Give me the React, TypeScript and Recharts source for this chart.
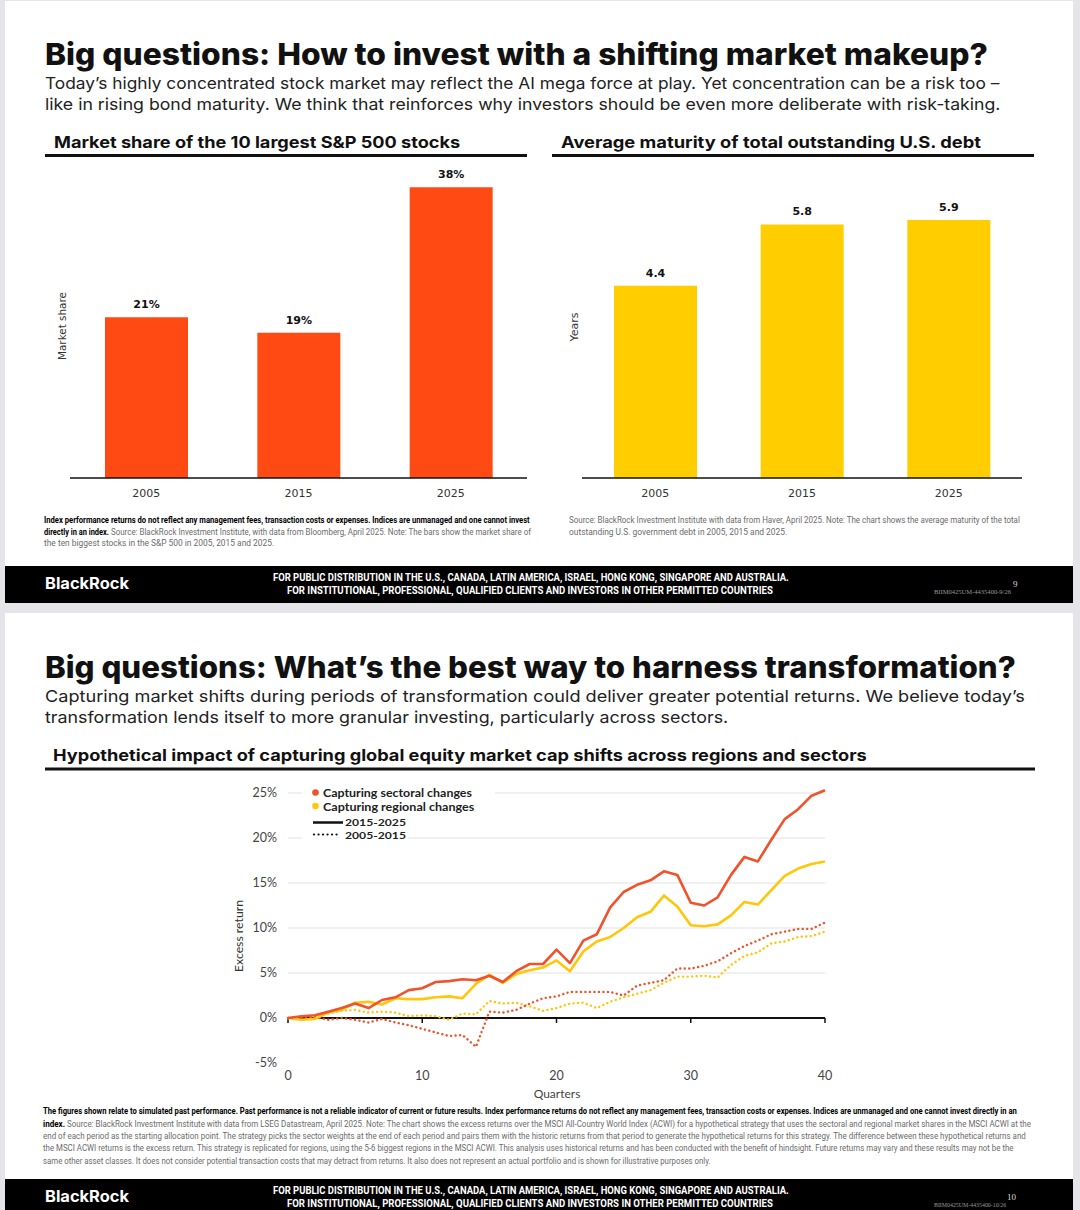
import React, { useLayoutEffect, useRef, useState } from 'react';
import { BarChart, Bar, XAxis, YAxis, LabelList, LineChart, Line, ReferenceLine } from 'recharts';

// top slide: bar charts
const years = ['2005', '2015', '2025'];
const marketShare = [21, 19, 38];
const avgMaturity = [4.4, 5.8, 5.9];

// bottom slide: cumulative excess return (%) by quarter
const quarters = [0, 1, 2, 3, 4, 5, 6, 7, 8, 9, 10, 11, 12, 13, 14, 15, 16, 17, 18, 19, 20, 21, 22, 23, 24, 25, 26, 27, 28, 29, 30, 31, 32, 33, 34, 35, 36, 37, 38, 39, 40];
const sectoral2015 = [0, 0.2, 0.3, 0.7, 1.1, 1.6, 1.1, 2.0, 2.3, 3.1, 3.3, 4.0, 4.1, 4.3, 4.2, 4.7, 4.0, 5.2, 6.0, 6.0, 7.6, 6.1, 8.6, 9.3, 12.3, 14.0, 14.8, 15.3, 16.3, 15.9, 12.8, 12.5, 13.4, 15.9, 17.9, 17.4, 19.8, 22.1, 23.2, 24.7, 25.3];
const regional2015 = [0, -0.2, -0.1, 0.6, 0.9, 1.7, 1.8, 1.5, 2.2, 2.1, 2.1, 2.3, 2.4, 2.2, 3.8, 4.8, 3.9, 4.9, 5.3, 5.6, 6.4, 5.2, 7.4, 8.5, 9.0, 10.0, 11.2, 11.8, 13.6, 12.4, 10.3, 10.2, 10.4, 11.4, 12.9, 12.6, 14.2, 15.8, 16.6, 17.1, 17.4];
const sectoral2005 = [0, 0.1, 0.1, -0.2, 0, -0.2, -0.5, -0.1, -0.5, -0.8, -1.2, -1.6, -2.0, -1.9, -3.2, 0.7, 0.6, 0.9, 1.6, 2.2, 2.4, 2.9, 2.9, 2.9, 2.9, 2.5, 3.6, 3.9, 4.2, 5.5, 5.5, 5.8, 6.3, 7.2, 8.0, 8.6, 9.3, 9.6, 9.9, 9.9, 10.6];
const regional2005 = [0, 0.1, 0.2, 0.5, 0.8, 0.9, 0.6, 0.7, 0.6, 0.2, 0.3, 0.2, -0.2, 0.5, 0.4, 1.9, 1.6, 1.7, 1.3, 0.8, 1.1, 1.6, 1.7, 1.1, 1.8, 2.3, 2.7, 3.1, 3.9, 4.6, 4.6, 4.7, 4.5, 5.9, 6.9, 7.3, 8.3, 8.5, 9.0, 9.1, 9.6];

const pctTicks = [-5, 0, 5, 10, 15, 20, 25];
const gridLevels = [5, 10, 15, 20, 25];
const quarterTicks = [0, 10, 20, 30, 40];

const RED = '#FF4A14';
const YELLOW = '#FFCD00';
const LINE_RED = '#F0522B';
const LINE_YELLOW = '#FFC60A';

const SANS = 'Roboto, "Noto Sans", sans-serif';
const HEAD = 'Inter, Roboto, sans-serif';
const BAR_FONT = '"DejaVu Sans", Verdana, sans-serif';
const LINE_FONT = 'Lato, "Open Sans", sans-serif';

// text line squeezed/stretched horizontally to a measured width
function T({ x, y, w, size, weight = 400, fill = '#111', family = SANS, anchor, children }: any) {
  const ref = useRef<SVGTextElement>(null);
  const [sx, setSx] = useState(1);
  useLayoutEffect(() => {
    if (!w) return;
    const measure = () => {
      const n = ref.current ? ref.current.getComputedTextLength() : 0;
      if (n > 0) setSx(w / n);
    };
    measure();
    if (document.fonts) document.fonts.ready.then(measure);
  }, [w]);
  return (
    <text
      ref={ref}
      x={0}
      y={0}
      transform={`translate(${x} ${y}) scale(${w ? sx : 1} 1)`}
      fontSize={size}
      fontWeight={weight}
      fill={fill}
      fontFamily={family}
      textAnchor={anchor}
    >
      {children}
    </text>
  );
}

function VLabel({ x, y, h, size = 11, family = BAR_FONT, children }: any) {
  return (
    <g transform={`translate(${x} ${y}) rotate(-90)`}>
      <T x={-h / 2} y={size * 0.36} w={h} size={size} fill="#333" family={family}>
        {children}
      </T>
    </g>
  );
}

function YearBars({ values, color, max, fmt, width, right }: any) {
  const data = years.map((y, i) => ({ year: y, v: values[i] }));
  return (
    <BarChart width={width} height={350} data={data} margin={{ top: 12, right, bottom: 2, left: 0 }}>
      <XAxis
        dataKey="year"
        height={30}
        tickLine={false}
        tickMargin={5}
        axisLine={{ stroke: '#111', strokeWidth: 1.5 }}
        tick={{ fontSize: 11, fill: '#333', fontFamily: BAR_FONT }}
      />
      <YAxis width={30} domain={[0, max]} tick={false} axisLine={false} tickLine={false} />
      <Bar dataKey="v" fill={color} barSize={83} isAnimationActive={false}>
        <LabelList
          dataKey="v"
          position="top"
          offset={9}
          formatter={fmt}
          style={{ fontSize: 11, fontWeight: 700, fill: '#111', fontFamily: BAR_FONT }}
        />
      </Bar>
    </BarChart>
  );
}

function ReturnsChart() {
  const data = quarters.map((q, i) => ({
    q,
    s15: sectoral2015[i],
    r15: regional2015[i],
    s05: sectoral2005[i],
    r05: regional2005[i],
  }));
  const dotted = { strokeDasharray: '0.1 4.4', strokeLinecap: 'round' as const, strokeWidth: 2.4 };
  return (
    <LineChart width={630} height={330} data={data} margin={{ top: 9, right: 35, bottom: 4, left: 8 }}>
      <XAxis
        dataKey="q"
        type="number"
        domain={[0, 40]}
        ticks={quarterTicks}
        interval={0}
        height={38}
        axisLine={false}
        tickLine={false}
        tick={{ fontSize: 12.5, fill: '#444', fontFamily: LINE_FONT }}
      />
      <YAxis
        width={50}
        domain={[-5, 26]}
        ticks={pctTicks}
        tickFormatter={(v: number) => `${v}%`}
        axisLine={false}
        tickLine={false}
        tickMargin={5}
        tick={{ fontSize: 12.5, fill: '#444', fontFamily: LINE_FONT }}
      />
      {gridLevels.map((g) => (
        <ReferenceLine key={g} y={g} stroke="#e2e2e2" strokeWidth={1.2} />
      ))}
      <ReferenceLine y={0} stroke="#111" strokeWidth={2} />
      {quarterTicks.map((t) => (
        <ReferenceLine key={`t${t}`} segment={[{ x: t, y: 0 }, { x: t, y: -0.55 }]} stroke="#111" strokeWidth={1.5} />
      ))}
      <Line dataKey="r05" stroke={LINE_YELLOW} dot={false} {...dotted} isAnimationActive={false} />
      <Line dataKey="s05" stroke={LINE_RED} dot={false} {...dotted} isAnimationActive={false} />
      <Line dataKey="r15" stroke={LINE_YELLOW} dot={false} strokeWidth={2.6} strokeLinejoin="round" isAnimationActive={false} />
      <Line dataKey="s15" stroke={LINE_RED} dot={false} strokeWidth={2.6} strokeLinejoin="round" isAnimationActive={false} />
    </LineChart>
  );
}

function Footer({ y, page, code, codeW, pageX }: any) {
  return (
    <g>
      <rect x={5} y={y} width={1068} height={37} fill="#000" />
      <T x={45} y={y + 23} w={84} size={16} weight={700} fill="#fff" family={HEAD}>BlackRock</T>
      <T x={273} y={y + 15} w={516} size={10} weight={700} fill="#fff">
        FOR PUBLIC DISTRIBUTION IN THE U.S., CANADA, LATIN AMERICA, ISRAEL, HONG KONG, SINGAPORE AND AUSTRALIA.
      </T>
      <T x={287} y={y + 28} w={486} size={10} weight={700} fill="#fff">
        FOR INSTITUTIONAL, PROFESSIONAL, QUALIFIED CLIENTS AND INVESTORS IN OTHER PERMITTED COUNTRIES
      </T>
      <T x={934} y={y + 28} w={codeW} size={7} fill="#9a9a9a" family='"Liberation Serif", serif'>
        {code}
      </T>
      <T x={pageX} y={y + 21} size={9} fill="#ddd" family='"Liberation Serif", serif'>
        {page}
      </T>
    </g>
  );
}

export default function App() {
  const NOTE = 9.5;
  const GRAY = '#6b6b6b';
  return (
    <div style={{ position: 'absolute', left: 0, top: 0, width: 1080, height: 1210, background: '#e5e5e9', overflow: 'hidden' }}>
      <svg width={1080} height={1210} style={{ position: 'absolute', left: 0, top: 0 }}>
        {/* slide 9 */}
        <rect x={5} y={1} width={1068} height={565} fill="#fff" />
        <T x={45} y={65} w={943} size={30} weight={800} family={HEAD}>Big questions: How to invest with a shifting market makeup?</T>
        <T x={45} y={89} w={954} size={16.5} fill="#222" family={HEAD}>
          Today’s highly concentrated stock market may reflect the AI mega force at play. Yet concentration can be a risk too –
        </T>
        <T x={45} y={110} w={955} size={16.5} fill="#222" family={HEAD}>
          like in rising bond maturity. We think that reinforces why investors should be even more deliberate with risk-taking.
        </T>
        <T x={54} y={148} w={406} size={16} weight={700} family={HEAD}>Market share of the 10 largest S&amp;P 500 stocks</T>
        <T x={561} y={148} w={420} size={16} weight={700} family={HEAD}>Average maturity of total outstanding U.S. debt</T>
        <rect x={45} y={154} width={482} height={3} fill="#111" />
        <rect x={552} y={154} width={482} height={3} fill="#111" />
        <VLabel x={62} y={326} h={68}>Market share</VLabel>
        <VLabel x={574} y={327} h={29}>Years</VLabel>

        <T x={44} y={523} w={486} size={NOTE} weight={700} fill="#000">
          Index performance returns do not reflect any management fees, transaction costs or expenses. Indices are unmanaged and one cannot invest
        </T>
        <T x={44} y={535} w={65} size={NOTE} weight={700} fill="#000">directly in an index.</T>
        <T x={111} y={535} w={420} size={NOTE} fill={GRAY}>
          Source: BlackRock Investment Institute, with data from Bloomberg, April 2025. Note: The bars show the market share of
        </T>
        <T x={44} y={546} w={230} size={NOTE} fill={GRAY}>the ten biggest stocks in the S&amp;P 500 in 2005, 2015 and 2025.</T>
        <T x={569} y={523} w={451} size={NOTE} fill={GRAY}>
          Source: BlackRock Investment Institute with data from Haver, April 2025. Note: The chart shows the average maturity of the total
        </T>
        <T x={569} y={535} w={218} size={NOTE} fill={GRAY}>outstanding U.S. government debt in 2005, 2015 and 2025.</T>
        <Footer y={566} page="9" code="BIIM0425UM-4435400-9/26" codeW={77} pageX={1013} />

        {/* slide 10 */}
        <rect x={5} y={613} width={1068} height={566} fill="#fff" />
        <T x={45} y={678} w={971} size={30} weight={800} family={HEAD}>Big questions: What’s the best way to harness transformation?</T>
        <T x={45} y={702} w={980} size={16.5} fill="#222" family={HEAD}>
          Capturing market shifts during periods of transformation could deliver greater potential returns. We believe today’s
        </T>
        <T x={45} y={723} w={683} size={16.5} fill="#222" family={HEAD}>
          transformation lends itself to more granular investing, particularly across sectors.
        </T>
        <T x={53} y={761} w={814} size={16} weight={700} family={HEAD}>
          Hypothetical impact of capturing global equity market cap shifts across regions and sectors
        </T>
        <rect x={45} y={767.5} width={990} height={3} fill="#111" />
        <VLabel x={239} y={936} h={72} size={12} family={LINE_FONT}>Excess return</VLabel>
        <T x={557} y={1098} size={12} fill="#444" family={LINE_FONT} anchor="middle">Quarters</T>

        <T x={43} y={1114} w={973} size={9} weight={700} fill="#000">
          The figures shown relate to simulated past performance. Past performance is not a reliable indicator of current or future results. Index performance returns do not reflect any management fees, transaction costs or expenses. Indices are unmanaged and one cannot invest directly in an
        </T>
        <T x={43} y={1127} w={22} size={9} weight={700} fill="#000">index.</T>
        <T x={67} y={1127} w={963} size={9} fill={GRAY}>
          Source: BlackRock Investment Institute with data from LSEG Datastream, April 2025. Note: The chart shows the excess returns over the MSCI All-Country World Index (ACWI) for a hypothetical strategy that uses the sectoral and regional market shares in the MSCI ACWI at the
        </T>
        <T x={43} y={1139} w={983} size={9} fill={GRAY}>
          end of each period as the starting allocation point. The strategy picks the sector weights at the end of each period and pairs them with the historic returns from that period to generate the hypothetical returns for this strategy. The difference between these hypothetical returns and
        </T>
        <T x={43} y={1151} w={971} size={9} fill={GRAY}>
          the MSCI ACWI returns is the excess return. This strategy is replicated for regions, using the 5-6 biggest regions in the MSCI ACWI. This analysis uses historical returns and has been conducted with the benefit of hindsight. Future returns may vary and these results may not be the
        </T>
        <T x={43} y={1164} w={668} size={9} fill={GRAY}>
          same other asset classes. It does not consider potential transaction costs that may detract from returns. It also does not represent an actual portfolio and is shown for illustrative purposes only.
        </T>
        <Footer y={1179} page="10" code="BIIM0425UM-4435400-10/26" codeW={72} pageX={1007} />
      </svg>

      <div style={{ position: 'absolute', left: 40, top: 160 }}>
        <YearBars values={marketShare} color={RED} max={40} width={500} right={13} fmt={(v: number) => `${v}%`} />
      </div>
      <div style={{ position: 'absolute', left: 552, top: 160 }}>
        <YearBars values={avgMaturity} color={YELLOW} max={7} width={480} right={10} fmt={(v: number) => v.toFixed(1)} />
      </div>
      <div style={{ position: 'absolute', left: 230, top: 775 }}>
        <ReturnsChart />
      </div>

      {/* legend sits over the gridlines */}
      <svg width={1080} height={1210} style={{ position: 'absolute', left: 0, top: 0, pointerEvents: 'none' }}>
        <rect x={302} y={785} width={193} height={28} fill="#fff" />
        <rect x={302} y={813} width={106} height={28} fill="#fff" />
        <circle cx={315.5} cy={792.5} r={3.3} fill={LINE_RED} />
        <circle cx={315.5} cy={806} r={3.3} fill={LINE_YELLOW} />
        <line x1={313} x2={343} y1={822.5} y2={822.5} stroke="#111" strokeWidth={2.5} />
        <line x1={314} x2={341} y1={834.5} y2={834.5} stroke="#111" strokeWidth={2.2} strokeDasharray="0.1 4.4" strokeLinecap="round" />
        <T x={323} y={797} w={149} size={11} weight={700} fill="#222" family={LINE_FONT}>Capturing sectoral changes</T>
        <T x={323} y={810.5} w={151} size={11} weight={700} fill="#222" family={LINE_FONT}>Capturing regional changes</T>
        <T x={345} y={826} w={61} size={10.2} weight={700} fill="#222" family={LINE_FONT}>2015-2025</T>
        <T x={345} y={838.5} w={61} size={10.2} weight={700} fill="#222" family={LINE_FONT}>2005-2015</T>
      </svg>
    </div>
  );
}
